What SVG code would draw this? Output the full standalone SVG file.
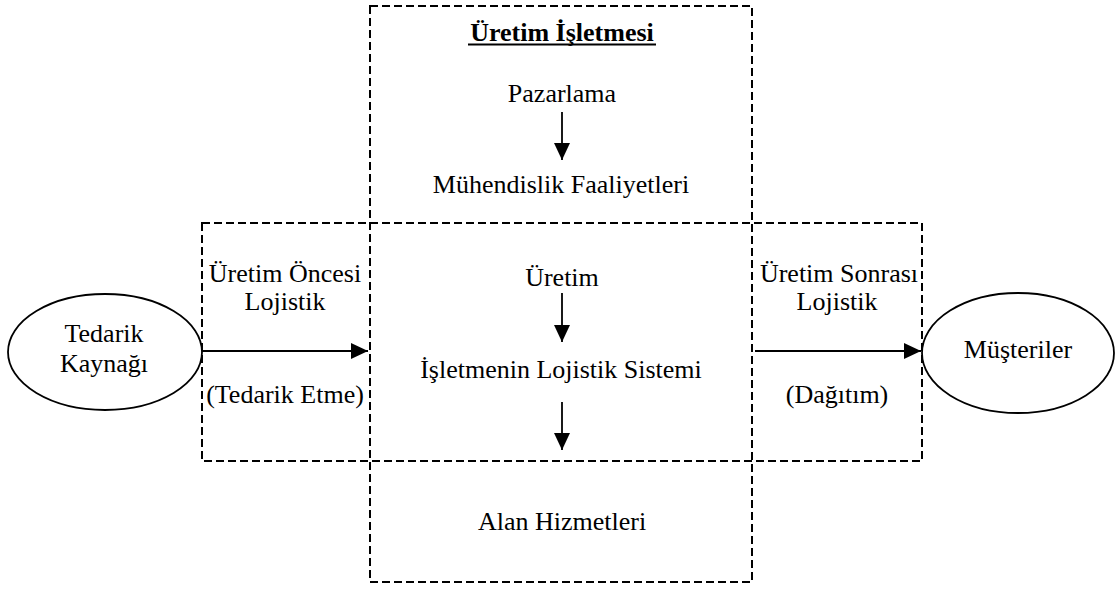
<svg xmlns="http://www.w3.org/2000/svg" width="1120" height="590" viewBox="0 0 1120 590">
  <style>
    text { font-family: "Liberation Serif", "Times New Roman", serif; font-size: 26px; fill: #000; text-anchor: middle; }
    .title { font-weight: bold; }
    .zone { fill: none; stroke: #000; stroke-width: 2; stroke-dasharray: 8 4; }
    .node { fill: #fff; stroke: #000; stroke-width: 1.8; }
    .flow { fill: none; stroke: #000; stroke-width: 1.8; marker-end: url(#head); }
  </style>
  <defs>
    <marker id="head" markerUnits="userSpaceOnUse" markerWidth="18" markerHeight="16" refX="17" refY="8" orient="auto">
      <path d="M0,0 L17,8 L0,16 Z" fill="#000"/>
    </marker>
  </defs>

  <rect width="1120" height="590" fill="#fff"/>

  <!-- dashed zones: the plant (vertical) and the logistics band (horizontal) -->
  <g id="zones">
    <rect class="zone" x="370" y="6" width="382" height="576"/>
    <rect class="zone" x="202" y="223" width="720" height="238"/>
  </g>

  <g id="connectors">
    <line class="flow" x1="562" y1="112" x2="562" y2="160"/>
    <line class="flow" x1="562" y1="293" x2="562" y2="342"/>
    <line class="flow" x1="562" y1="402" x2="562" y2="450"/>
    <line class="flow" x1="202" y1="351" x2="368" y2="351"/>
    <line class="flow" x1="755" y1="351" x2="921" y2="351"/>
  </g>

  <g id="title">
    <text class="title" x="562" y="41">Üretim İşletmesi</text>
    <line x1="468" y1="44.5" x2="656" y2="44.5" stroke="#000" stroke-width="1.8"/>
  </g>

  <g id="pazarlama"><text x="562" y="102">Pazarlama</text></g>
  <g id="muhendislik"><text x="561" y="193">Mühendislik Faaliyetleri</text></g>
  <g id="uretim"><text x="562" y="286">Üretim</text></g>
  <g id="lojistik-sistemi"><text x="561" y="378">İşletmenin Lojistik Sistemi</text></g>
  <g id="alan-hizmetleri"><text x="562" y="530">Alan Hizmetleri</text></g>

  <g id="uretim-oncesi">
    <text x="285" y="282">Üretim Öncesi</text>
    <text x="285" y="310">Lojistik</text>
    <text x="285" y="403">(Tedarik Etme)</text>
  </g>

  <g id="uretim-sonrasi">
    <text x="839" y="282">Üretim Sonrası</text>
    <text x="837" y="310">Lojistik</text>
    <text x="837" y="403">(Dağıtım)</text>
  </g>

  <g id="tedarik-kaynagi">
    <ellipse class="node" cx="105" cy="352" rx="97" ry="58"/>
    <text x="104" y="342">Tedarik</text>
    <text x="104" y="372">Kaynağı</text>
  </g>

  <g id="musteriler">
    <ellipse class="node" cx="1018" cy="353" rx="96" ry="60"/>
    <text x="1018" y="358">Müşteriler</text>
  </g>
</svg>
